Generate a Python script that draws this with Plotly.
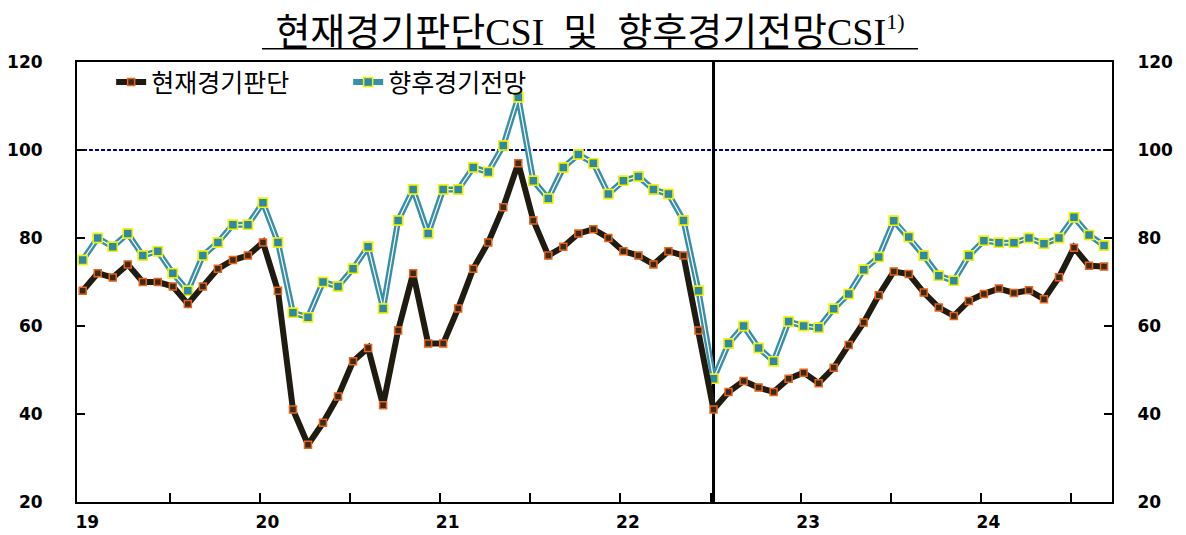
import plotly.graph_objects as go

# ---- data (monthly, Jan 2019 - Sep 2024) ----
current_csi = [
    68, 72, 71, 74, 70, 70, 69, 65, 69, 73, 75, 76,          # 2019
    79, 68, 41, 33, 38, 44, 52, 55, 42, 59, 72, 56,          # 2020
    56, 64, 73, 79, 87, 97, 84, 76, 78, 81, 82, 80,          # 2021
    77, 76, 74, 77, 76, 59, 41, 45, 47.5, 46, 45, 48,        # 2022
    49.4, 47, 50.5, 55.7, 60.8, 67, 72.4, 71.8, 67.6, 64.2, 62.3, 65.7,  # 2023
    67.3, 68.5, 67.5, 68.1, 66.1, 71.1, 77.8, 73.7, 73.5,    # 2024
]
outlook_csi = [
    75, 80, 78, 81, 76, 77, 72, 68, 76, 79, 83, 83,          # 2019
    88, 79, 63, 62, 70, 69, 73, 78, 64, 84, 91, 81,          # 2020
    91, 91, 96, 95, 101, 112, 93, 89, 96, 99, 97, 90,        # 2021
    93, 94, 91, 90, 84, 68, 48, 56, 60, 55, 52, 61,          # 2022
    60, 59.6, 63.9, 67.3, 72.8, 75.7, 83.9, 80.2, 76, 71.4, 70.3, 76,  # 2023
    79.4, 78.9, 78.9, 80, 78.7, 80, 84.7, 80.7, 78.3,        # 2024
]
months = list(range(len(current_csi)))          # month index from Jan 2019
year_labels = ["19", "20", "21", "22", "23", "24"]
year_ticks = [12 * i + 0.3 for i in range(len(year_labels))]
half_year_ticks = [6 * i - 0.2 for i in range(1, 12)]
y_ticks = [20, 40, 60, 80, 100, 120]
baseline_value = 100
break_month = 42                                # Jul 2022

name_current = "현재경기판단"
name_outlook = "향후경기전망"
title_text = ("현재경기판단CSI  및  향후경기전망CSI"
              "<sup><span style='font-size:22px'>1)</span></sup>")

# ---- styles ----
BLACK_LINE = "#1F1B10"
TEAL_LINE = "#3A8FA8"
TICK_FONT = dict(family="DejaVu Sans", size=17, color="black", weight="bold")
TEAL_MARKER = dict(symbol="square", size=9, color="#2E89A6",
                   line=dict(color="#F2F200", width=1.5))

fig = go.Figure()

# Outlook series (teal double line)
fig.add_trace(go.Scatter(
    x=months, y=outlook_csi, name=name_outlook, mode="lines+markers",
    line=dict(color=TEAL_LINE, width=6), marker=TEAL_MARKER, hoverinfo="skip",
))
fig.add_trace(go.Scatter(
    x=months, y=outlook_csi, mode="lines", showlegend=False,
    line=dict(color="white", width=1.2), hoverinfo="skip",
))
fig.add_trace(go.Scatter(
    x=months, y=outlook_csi, mode="markers", showlegend=False,
    marker=TEAL_MARKER, hoverinfo="skip",
))

# Current series (black)
fig.add_trace(go.Scatter(
    x=months, y=current_csi, name=name_current, mode="lines+markers",
    line=dict(color=BLACK_LINE, width=6),
    marker=dict(symbol="square", size=7, color="#3B2A18",
                line=dict(color="#E8641B", width=1.5)),
    hoverinfo="skip",
))

# invisible trace for right axis
fig.add_trace(go.Scatter(
    x=months[:1], y=current_csi[:1], yaxis="y2", mode="markers",
    marker=dict(opacity=0), showlegend=False, hoverinfo="skip",
))

# reference lines
fig.add_shape(type="line", xref="paper", x0=0, x1=1, yref="y",
              y0=baseline_value, y1=baseline_value,
              line=dict(color="#00008B", width=2, dash="4px,2px"), layer="below")
fig.add_shape(type="line", xref="x", x0=break_month, x1=break_month,
              yref="paper", y0=0, y1=1,
              line=dict(color="black", width=3), layer="below")
# title underline
fig.add_shape(type="line", xref="paper", x0=0.1787, x1=0.8126,
              yref="paper", y0=1.03, y1=1.03,
              line=dict(color="black", width=1.5))

fig.update_layout(
    width=1178, height=527,
    margin=dict(l=69, r=74, t=54, b=33, autoexpand=False),
    paper_bgcolor="white", plot_bgcolor="white",
    title=dict(text=title_text, x=0.494, xanchor="center", y=0.955, yanchor="middle",
               font=dict(family="Liberation Serif, Noto Sans CJK KR", size=38, color="black")),
    showlegend=True,
    legend=dict(orientation="h", x=0.033, xanchor="left", y=1.006, yanchor="top",
                font=dict(family="Noto Sans CJK KR", size=25, color="black"),
                bgcolor="rgba(0,0,0,0)", entrywidth=192, entrywidthmode="pixels",
                traceorder="reversed"),
    xaxis=dict(
        range=[-0.38, 68.53], showgrid=False, zeroline=False, automargin=False,
        showline=True, linecolor="black", linewidth=2, mirror=True,
        tickmode="array", tickvals=year_ticks, ticktext=year_labels,
        ticks="", tickfont=TICK_FONT, ticklabelstandoff=4,
        minor=dict(tickmode="array", tickvals=half_year_ticks, ticks="inside",
                   ticklen=9, tickwidth=1.5, tickcolor="black", showgrid=False),
    ),
    yaxis=dict(
        range=[20, 120], showgrid=False, zeroline=False, automargin=False,
        showline=True, linecolor="black", linewidth=2,
        tickmode="array", tickvals=y_ticks, ticks="inside", ticklen=8,
        tickwidth=1.5, tickcolor="black", tickfont=TICK_FONT, ticklabelstandoff=29,
    ),
    yaxis2=dict(
        range=[20, 120], overlaying="y", side="right", showgrid=False, zeroline=False,
        automargin=False, showline=True, linecolor="black", linewidth=2,
        tickmode="array", tickvals=y_ticks, ticks="inside", ticklen=8,
        tickwidth=1.5, tickcolor="black", tickfont=TICK_FONT, ticklabelstandoff=20,
    ),
)

fig.write_html("out.html")
